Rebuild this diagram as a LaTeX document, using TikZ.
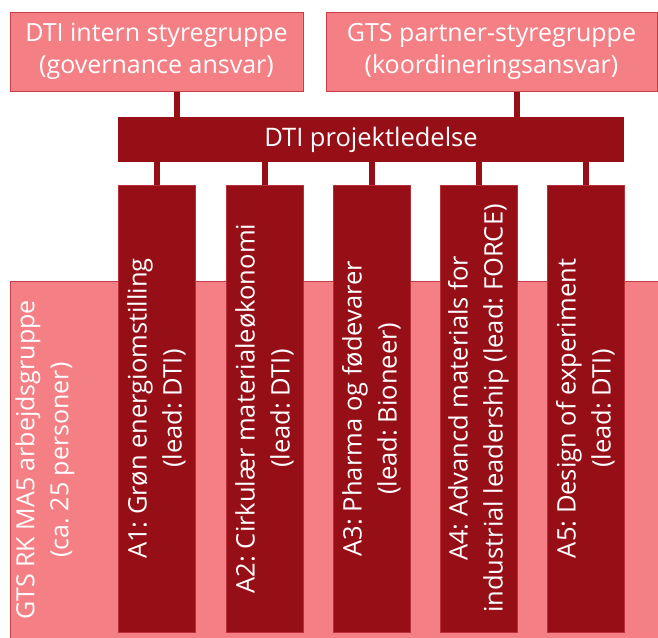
\documentclass[tikz,border=0pt]{standalone}
\usepackage{fontspec}
\setmainfont{Open Sans}
\frenchspacing
\definecolor{dtired}{RGB}{150,14,22}
\definecolor{dtipink}{RGB}{244,127,133}
\definecolor{dtiedge}{RGB}{200,62,70}
\begin{document}
\begin{tikzpicture}[x=1pt,y=-1pt,line cap=butt,
  pinkbox/.style={draw=dtiedge,line width=1pt,fill=dtipink,text=white,align=center,inner sep=0pt,
    font=\fontsize{25}{32}\selectfont},
  redbar/.style={fill=dtired,text=white,inner sep=0pt,font=\fontsize{25.5}{32}\selectfont},
  column/.style={draw=dtiedge!70!dtired,line width=.6pt,fill=dtired,text=white,align=center,rotate=90,
    inner sep=0pt,minimum width=447pt,minimum height=77pt,font=\fontsize{25.5}{35}\selectfont},
  conn/.style={draw=dtired,line width=6pt}]
 \useasboundingbox (0,0) rectangle (658,637);
 \fill[white] (0,0) rectangle (658,637);
 \node[pinkbox,minimum width=293pt,minimum height=79pt] (intern) at (156.5,51.5)
   {DTI intern styregruppe\\(governance ansvar)};
 \node[pinkbox,minimum width=331pt,minimum height=79pt] (partner) at (491.5,51.5)
   {GTS partner-styregruppe\\(koordineringsansvar)};
 \node[redbar,minimum width=506pt,minimum height=45pt] (lead) at (371,139.5) {DTI projektledelse};
 \draw[conn] ([xshift=20.5pt]intern.south) -- ([xshift=20.5pt]intern.south |- lead.north);
 \draw[conn] ([xshift=25.5pt]partner.south) -- ([xshift=25.5pt]partner.south |- lead.north);
 \node[pinkbox,anchor=north west,minimum width=652pt,minimum height=360pt] (ma5) at (10,281) {};
 \node[text=white,rotate=90,align=center,inner sep=0pt,font=\fontsize{25}{34}\selectfont] (ma5lbl)
   at (45,460) {GTS RK MA5 arbejdsgruppe\\(ca. 25 personer)};
 \node[column] (a1) at (156.5,408.5) {A1: Grøn energiomstilling\\(lead: DTI)};
 \node[column] (a2) at (264.5,408.5) {A2: Cirkulær materialeøkonomi\\(lead: DTI)};
 \node[column] (a3) at (371.5,408.5) {A3: Pharma og fødevarer\\(lead: Bioneer)};
 \node[column] (a4) at (478.5,408.5) {A4: Advancd materials for\\industrial leadership (lead: FORCE)};
 \node[column] (a5) at (585.5,408.5) {A5: Design of experiment\\(lead: DTI)};
 \draw[conn] (a1.east) -- (a1.east |- lead.south);
 \draw[conn] (a2.east) -- (a2.east |- lead.south);
 \draw[conn] (a3.east) -- (a3.east |- lead.south);
 \draw[conn] (a4.east) -- (a4.east |- lead.south);
 \draw[conn] (a5.east) -- (a5.east |- lead.south);
\end{tikzpicture}
\end{document}
